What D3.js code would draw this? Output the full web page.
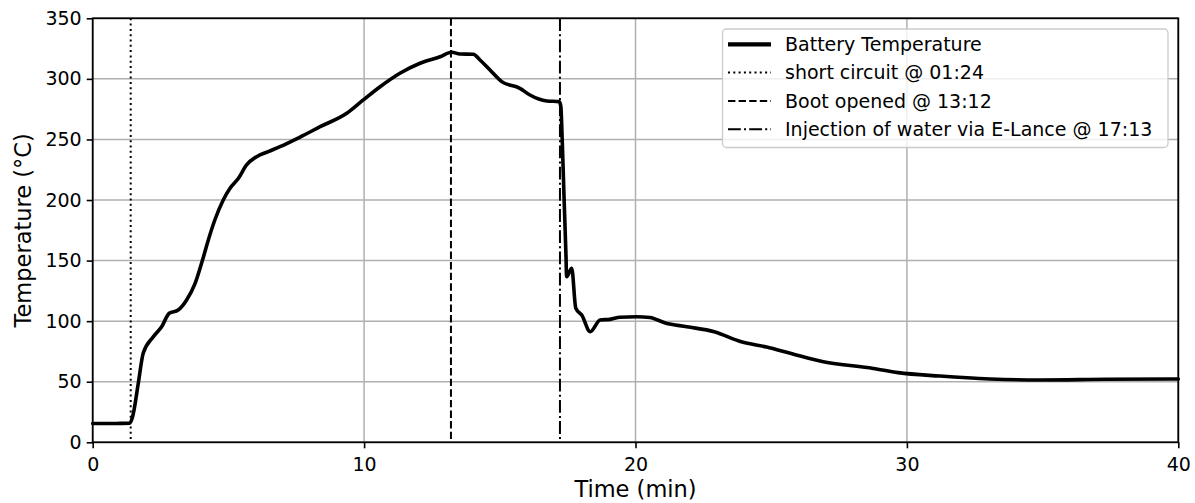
<!DOCTYPE html>
<html><head><meta charset="utf-8">
<script src="https://cdn.jsdelivr.net/npm/d3@7"></script>
<style>
html,body{margin:0;padding:0;background:#fff;}
svg text{font-family:"DejaVu Sans",sans-serif;fill:#000;}
</style></head>
<body><svg id="chart" width="1195" height="503"></svg>
<script>
// ---- data ----
const timeMin = [0,0.5,1.0,1.37,1.47,1.68,1.86,2.23,2.54,2.82,3.15,3.46,3.77,4.08,4.26,4.5,4.81,5.06,5.37,5.67,6.04,6.47,6.9,7.64,8.38,9.36,9.97,10.59,11.32,12.06,12.8,13.23,13.53,14.02,14.27,14.64,15.07,15.74,16.11,16.73,17.19,17.25,17.3,17.37,17.44,17.46,17.65,17.8,18.02,18.33,18.7,19.06,19.43,20.04,20.53,21.1,21.89,22.9,23.9,24.83,25.7,26.92,28.76,29.68,31.22,33.06,34.9,37.36,40];
const tempC =   [15.5,15.5,15.6,15.8,21,48.7,73.5,87,95.4,106.5,109.2,117.5,131,153,167,183.5,200,209.7,218,229,235.8,240,244,252,260.5,271.6,282.6,293.5,304.6,312.9,318.3,322,320.5,320.3,315.6,307.3,297.7,292.2,286.7,281.8,281.2,277,249.5,200,153,136.7,143.6,110.6,105,91.3,101,101.5,103.2,103.7,103,98.5,95.4,91.3,83,78.6,73.5,66.5,61,57.5,54.7,52.3,51.4,52,52.3];
const eventNames = ["short circuit @ 01:24","Boot opened @ 13:12","Injection of water via E-Lance @ 17:13"];
const eventTimes = [1.4, 13.2, 17.2167];
const eventDash = ["2,3.3","7.4,3.2","12.8,3.2,2,3.2"];
const seriesName = "Battery Temperature";
const xTicks = [0,10,20,30,40];
const yTicks = [0,50,100,150,200,250,300,350];

// ---- layout ----
const svg = d3.select("#chart");
const L=92.7, R=1178.3, T=18.3, B=442.3;
const x = d3.scaleLinear().domain([0,40]).range([L,R]);
const y = d3.scaleLinear().domain([0,350]).range([B,T]);

// grid
const grid = svg.append("g");
grid.selectAll("line.gx").data(xTicks).join("line")
  .attr("x1",d=>x(d)).attr("x2",d=>x(d)).attr("y1",T).attr("y2",B)
  .attr("stroke","#b0b0b0").attr("stroke-width",1.5);
grid.selectAll("line.gy").data(yTicks).join("line")
  .attr("y1",d=>y(d)).attr("y2",d=>y(d)).attr("x1",L).attr("x2",R)
  .attr("stroke","#b0b0b0").attr("stroke-width",1.5);

// event lines
svg.append("g").selectAll("line").data(eventTimes).join("line")
  .attr("x1",d=>x(d)).attr("x2",d=>x(d)).attr("y1",T).attr("y2",B)
  .attr("stroke","#000").attr("stroke-width",2)
  .attr("stroke-dasharray",(d,i)=>eventDash[i]);

// main line
const pts = timeMin.map((t,i)=>[t,tempC[i]]);
svg.append("path").datum(pts)
  .attr("fill","none").attr("stroke","#000").attr("stroke-width",3.6)
  .attr("stroke-linejoin","round").attr("stroke-linecap","round")
  .attr("d", d3.line().x(d=>x(d[0])).y(d=>y(d[1])).curve(d3.curveMonotoneX));

// axes
const xAxis = svg.append("g").attr("transform",`translate(0,${B})`)
  .call(d3.axisBottom(x).tickValues(xTicks).tickFormat(d3.format("d")).tickSize(6).tickPadding(5));
const yAxis = svg.append("g").attr("transform",`translate(${L},0)`)
  .call(d3.axisLeft(y).tickValues(yTicks).tickFormat(d3.format("d")).tickSize(6).tickPadding(5));
[xAxis,yAxis].forEach(a=>{
  a.select(".domain").remove();
  a.selectAll(".tick line").attr("stroke","#000").attr("stroke-width",1.6);
  a.selectAll(".tick text").attr("font-size",19).attr("font-family","DejaVu Sans").attr("fill","#000");
});
xAxis.selectAll(".tick text").attr("dy","0.95em");
// frame
svg.append("rect").attr("x",L).attr("y",T).attr("width",R-L).attr("height",B-T)
  .attr("fill","none").attr("stroke","#000").attr("stroke-width",1.8);

// axis labels
svg.append("text").attr("x",(L+R)/2).attr("y",497).attr("text-anchor","middle")
  .attr("font-size",22.5).text("Time (min)");
svg.append("text").attr("transform",`translate(31,${(T+B)/2}) rotate(-90)`)
  .attr("text-anchor","middle").attr("font-size",22.5).text("Temperature (°C)");

// legend
const lg = svg.append("g");
lg.append("rect").attr("x",722.5).attr("y",29).attr("width",445.5).attr("height",118.5)
  .attr("rx",4).attr("fill","#fff").attr("fill-opacity",0.8)
  .attr("stroke","#cccccc").attr("stroke-width",1.3);
const legendNames = [seriesName].concat(eventNames);
const legendDash = [null].concat(eventDash);
const legendW = [4.2,2,2,2];
legendNames.forEach((n,i)=>{
  const cy = 44.3 + i*28.3;
  lg.append("line").attr("x1",728).attr("x2",771).attr("y1",cy).attr("y2",cy)
    .attr("stroke","#000").attr("stroke-width",legendW[i])
    .attr("stroke-dasharray",legendDash[i]);
  lg.append("text").attr("x",785).attr("y",cy).attr("dy","0.35em")
    .attr("font-size",19).text(n);
});
</script></body></html>
